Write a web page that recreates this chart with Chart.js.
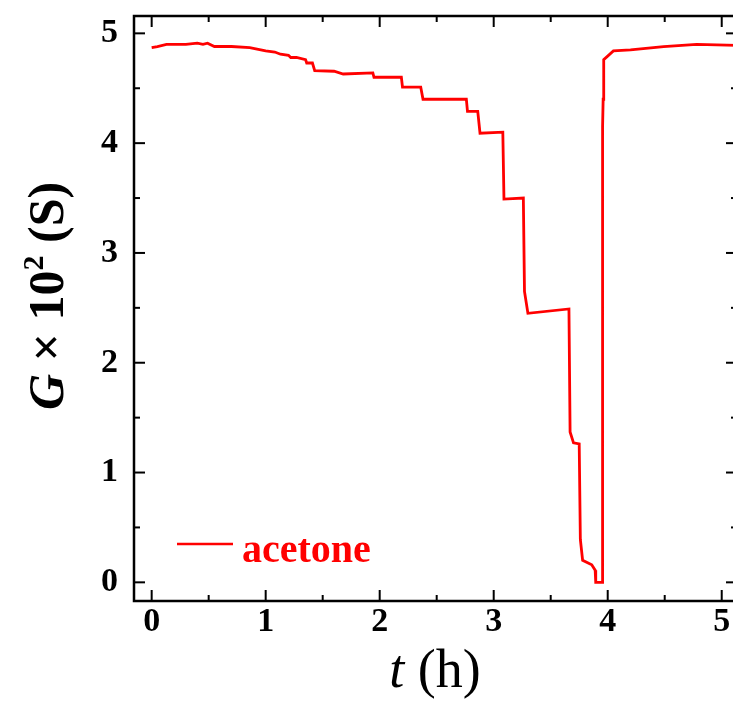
<!DOCTYPE html>
<html>
<head>
<meta charset="UTF-8">
<title>G vs t</title>
<script src="https://cdn.jsdelivr.net/npm/chart.js@4.4.0/dist/chart.umd.min.js"></script>
<style>
  body { margin: 0; background: #fff; overflow: hidden; }
</style>
</head>
<body>
<canvas id="myChart" width="739" height="702"></canvas>
<script>
// time (h) and conductance G x 10^2 (S)
var timeH = [0.00, 0.05, 0.13, 0.30, 0.40, 0.45, 0.49, 0.55, 0.70, 0.86, 1.00, 1.08, 1.13, 1.20, 1.22, 1.27, 1.35, 1.36, 1.41,
             1.43, 1.60, 1.68, 1.94, 1.95, 2.19, 2.20, 2.36, 2.38, 2.76, 2.77, 2.86, 2.88, 3.08,
             3.09, 3.26, 3.27, 3.30, 3.66, 3.67, 3.70, 3.75, 3.76, 3.78, 3.86, 3.89, 3.895, 3.95,
             3.955, 3.96, 3.965, 4.05, 4.20, 4.49, 4.78, 5.14];
var conductance = [4.87, 4.88, 4.90, 4.90, 4.91, 4.90, 4.91, 4.88, 4.88, 4.87, 4.84, 4.83, 4.81, 4.80, 4.78, 4.78, 4.76, 4.73, 4.73,
                   4.66, 4.655, 4.63, 4.64, 4.60, 4.60, 4.51, 4.51, 4.40, 4.40, 4.29, 4.29, 4.09, 4.10,
                   3.49, 3.50, 2.65, 2.45, 2.49, 1.37, 1.27, 1.26, 0.39, 0.20, 0.16, 0.11, 0.00, 0.00,
                   4.15, 4.40, 4.76, 4.84, 4.85, 4.88, 4.90, 4.89];
var xTickValues = [0, 1, 2, 3, 4, 5];
var yTickValues = [0, 1, 2, 3, 4, 5];
var minorStep = 0.5;
var seriesName = 'acetone';

var serif = "'Liberation Serif', 'Times New Roman', serif";

function drawParts(ctx, parts, cx, cy) {
  var total = 0;
  parts.forEach(function(p) {
    ctx.font = p.font;
    p.w = ctx.measureText(p.text).width;
    total += p.w;
  });
  var x = cx - total / 2;
  parts.forEach(function(p) {
    ctx.font = p.font;
    ctx.fillText(p.text, x, cy - (p.rise || 0));
    x += p.w;
  });
}

var frameTicks = {
  id: 'frameTicks',
  afterDraw: function(chart) {
    var ctx = chart.ctx, a = chart.chartArea;
    var xs = chart.scales.x, ys = chart.scales.y;
    function seg(x1, y1, x2, y2) {
      ctx.beginPath(); ctx.moveTo(x1, y1); ctx.lineTo(x2, y2); ctx.stroke();
    }
    ctx.save();
    ctx.strokeStyle = '#000';
    ctx.lineWidth = 2;
    for (var v = 0; v <= 5.001; v += minorStep) {
      var len = Math.abs(v - Math.round(v)) < 0.01 ? 11 : 6;
      var px = xs.getPixelForValue(v);
      seg(px, a.bottom, px, a.bottom - len);
      seg(px, a.top, px, a.top + len);
      var py = ys.getPixelForValue(v);
      seg(a.left, py, a.left + len, py);
      seg(a.right, py, a.right - len, py);
    }
    ctx.lineWidth = 2.5;
    ctx.strokeRect(a.left, a.top, a.right - a.left, a.bottom - a.top);

    // legend
    ctx.strokeStyle = 'red';
    ctx.lineWidth = 2.5;
    seg(a.left + 43, a.bottom - 57, a.left + 99, a.bottom - 57);
    ctx.fillStyle = 'red';
    ctx.textBaseline = 'alphabetic';
    ctx.textAlign = 'left';
    ctx.font = 'bold 40px ' + serif;
    ctx.fillText(seriesName, a.left + 108, a.bottom - 39);

    // axis titles
    ctx.fillStyle = '#000';
    drawParts(ctx, [
      { text: 't', font: 'italic 54px ' + serif },
      { text: ' (h)', font: '54px ' + serif }
    ], 435, 687);

    ctx.translate(63, 296);
    ctx.rotate(-Math.PI / 2);
    drawParts(ctx, [
      { text: 'G', font: 'italic bold 50px ' + serif },
      { text: ' \u00d7 10', font: 'bold 50px ' + serif },
      { text: '2', font: 'bold 30px ' + serif, rise: 20 },
      { text: ' (S)', font: 'bold 50px ' + serif }
    ], 0, 0);
    ctx.restore();
  }
};

var points = timeH.map(function(t, i) { return { x: t, y: conductance[i] }; });

var ctx = document.getElementById('myChart').getContext('2d');
var myChart = new Chart(ctx, {
  type: 'line',
  data: {
    datasets: [{
      label: seriesName,
      data: points,
      borderColor: 'red',
      borderWidth: 2.8,
      pointRadius: 0,
      tension: 0,
      fill: false
    }]
  },
  options: {
    responsive: false,
    animation: false,
    layout: { padding: { top: 16, right: 2, left: 0, bottom: 0 } },
    plugins: { legend: { display: false }, tooltip: { enabled: false } },
    scales: {
      x: {
        type: 'linear',
        min: -0.155,
        max: 5.134,
        grid: { display: false, drawTicks: false },
        border: { display: false },
        afterBuildTicks: function(scale) {
          scale.ticks = xTickValues.map(function(v) { return { value: v }; });
        },
        afterFit: function(scale) {
          scale.height = 101;
          scale.paddingLeft = 0;
          scale.paddingRight = 0;
        },
        ticks: {
          padding: 5,
          maxRotation: 0,
          color: '#000',
          font: { family: serif, size: 34, weight: 'bold', lineHeight: 0.94 }
        }
      },
      y: {
        type: 'linear',
        min: -0.17,
        max: 5.158,
        grid: { display: false, drawTicks: false },
        border: { display: false },
        afterBuildTicks: function(scale) {
          scale.ticks = yTickValues.map(function(v) { return { value: v }; });
        },
        afterFit: function(scale) {
          scale.width = 134;
          scale.paddingTop = 0;
          scale.paddingBottom = 0;
        },
        ticks: {
          padding: 16,
          color: '#000',
          font: { family: serif, size: 34, weight: 'bold', lineHeight: 0.94 }
        }
      }
    }
  },
  plugins: [frameTicks]
});
</script>
</body>
</html>
